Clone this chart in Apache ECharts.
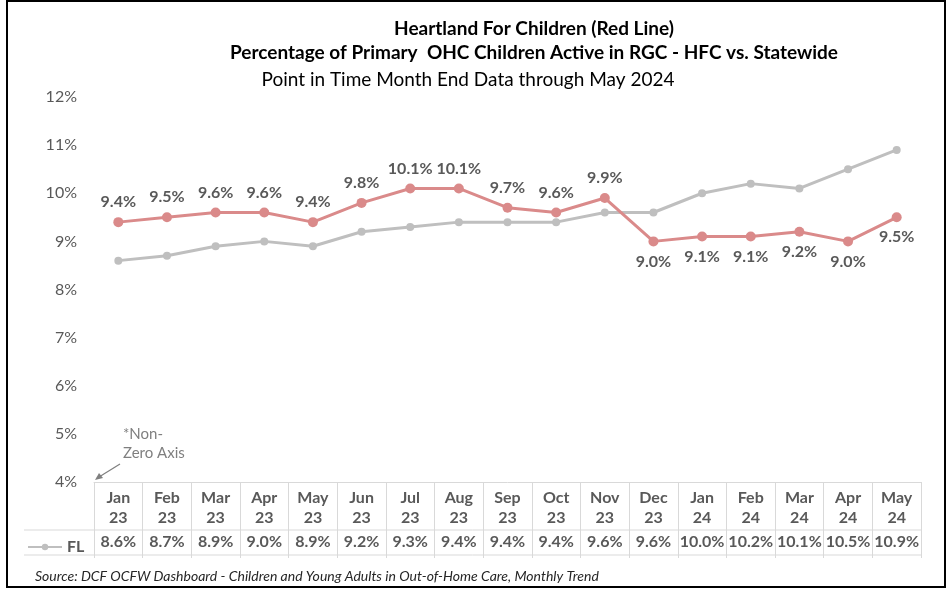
<!DOCTYPE html>
<html>
<head>
<meta charset="utf-8">
<script src="https://cdn.jsdelivr.net/npm/echarts@6/dist/echarts.min.js"></script>
<style>
  html, body { margin: 0; padding: 0; background: #fff; }
  #main { width: 951px; height: 591px; }
</style>
</head>
<body>
<div id="main"></div>
<script>
const months = ['Jan\n23', 'Feb\n23', 'Mar\n23', 'Apr\n23', 'May\n23', 'Jun\n23', 'Jul\n23', 'Aug\n23', 'Sep\n23',
  'Oct\n23', 'Nov\n23', 'Dec\n23', 'Jan\n24', 'Feb\n24', 'Mar\n24', 'Apr\n24', 'May\n24']
// Heartland For Children (red line)
const hfc = [9.4, 9.5, 9.6, 9.6, 9.4, 9.8, 10.1, 10.1, 9.7, 9.6, 9.9, 9.0, 9.1, 9.1, 9.2, 9.0, 9.5]
// Statewide (FL, gray line, shown in the table)
const fl = [8.6, 8.7, 8.9, 9.0, 8.9, 9.2, 9.3, 9.4, 9.4, 9.4, 9.6, 9.6, 10.0, 10.2, 10.1, 10.5, 10.9]

const FONT = 'Lato'
const TXT = '#595959'
const RED = '#da8a8a'
const GRAY = '#bfbfbf'
const RULE = '#d9d9d9'

const chart = echarts.init(document.getElementById('main'))

const pct = v => v.toFixed(1) + '%'

chart.setOption({
  animation: false,
  textStyle: { fontFamily: FONT },
  title: [
    { text: 'Heartland For Children (Red Line)', left: 529, top: 14, textAlign: 'center',
      textStyle: { fontSize: 19, fontWeight: 'bold', color: '#000', fontFamily: FONT } },
    { text: 'Percentage of Primary  OHC Children Active in RGC - HFC vs. Statewide', left: 529, top: 38, textAlign: 'center',
      textStyle: { fontSize: 19, fontWeight: 'bold', color: '#000', fontFamily: FONT } },
    { text: 'Point in Time Month End Data through May 2024', left: 463, top: 65, textAlign: 'center',
      textStyle: { fontSize: 19, fontWeight: 'normal', color: '#000', fontFamily: FONT } }
  ],
  legend: {
    data: ['FL'],
    left: 22, top: 534,
    itemWidth: 34, itemHeight: 8, itemGap: 4,
    textStyle: { color: TXT, fontSize: 16, fontFamily: FONT, fontWeight: 'bold' }
  },
  grid: { left: 94, right: 30, top: 97, bottom: 109 },
  xAxis: [
    {
      type: 'category',
      data: months,
      boundaryGap: true,
      axisLine: { show: true, lineStyle: { color: RULE, width: 1 } },
      axisTick: { show: true, interval: 0, length: 76, lineStyle: { color: RULE } },
      axisLabel: { interval: 0, margin: 6, color: TXT, fontSize: 16, lineHeight: 20, fontFamily: FONT, fontWeight: 'bold' }
    },
    {
      type: 'category',
      position: 'bottom',
      offset: 48,
      data: months,
      boundaryGap: true,
      axisLine: { show: false },
      axisTick: { show: false },
      axisLabel: { interval: 0, margin: 4, color: TXT, fontSize: 16, fontFamily: FONT, fontWeight: 'bold',
        formatter: (v, i) => pct(fl[i]) }
    }
  ],
  yAxis: {
    type: 'value',
    min: 4, max: 12, interval: 1,
    axisLine: { show: false },
    axisTick: { show: false },
    splitLine: { show: false },
    axisLabel: { margin: 17, color: TXT, fontSize: 16, fontFamily: FONT, formatter: v => v + '%' }
  },
  series: [
    {
      name: 'FL',
      type: 'line',
      xAxisIndex: 0,
      data: fl,
      symbol: 'circle',
      symbolSize: 8,
      itemStyle: { color: GRAY },
      lineStyle: { color: GRAY, width: 3 },
      z: 2
    },
    {
      name: 'HFC',
      type: 'line',
      xAxisIndex: 0,
      data: hfc.map((v, i) => ({
        value: v,
        // labels sit below the red line once it drops under the statewide line
        label: { position: v < fl[i] ? 'bottom' : 'top' }
      })),
      symbol: 'circle',
      symbolSize: 10,
      itemStyle: { color: RED },
      lineStyle: { color: RED, width: 3 },
      label: {
        show: true,
        distance: 7,
        color: TXT,
        fontSize: 16,
        fontFamily: FONT,
        fontWeight: 'bold',
        formatter: p => pct(p.value)
      },
      z: 3
    }
  ],
  graphic: [
    // outer frame
    { type: 'rect', shape: { x: 7, y: 1, width: 938, height: 586 }, style: { fill: 'none', stroke: '#000', lineWidth: 2 } },
    // table row rules
    { type: 'line', shape: { x1: 24, y1: 530, x2: 921, y2: 530 }, style: { stroke: RULE, lineWidth: 1 } },
    { type: 'line', shape: { x1: 24, y1: 555, x2: 921, y2: 555 }, style: { stroke: RULE, lineWidth: 1 } },
    // non-zero axis note
    { type: 'text', left: 123, top: 425, style: { text: '*Non-\nZero Axis', fill: '#7f7f7f', font: '15px Lato', lineHeight: 19 } },
    { type: 'line', shape: { x1: 120, y1: 464, x2: 99, y2: 477 }, style: { stroke: '#7f7f7f', lineWidth: 1.2 } },
    { type: 'polygon', shape: { points: [[95, 480], [99, 473], [103, 478]] }, style: { fill: '#7f7f7f' } },
    // source
    { type: 'text', left: 35, top: 569,
      style: { text: 'Source: DCF OCFW Dashboard - Children and Young Adults in Out-of-Home Care, Monthly Trend',
        fill: '#262626', font: 'italic 14px Lato' } }
  ]
})
</script>
</body>
</html>
